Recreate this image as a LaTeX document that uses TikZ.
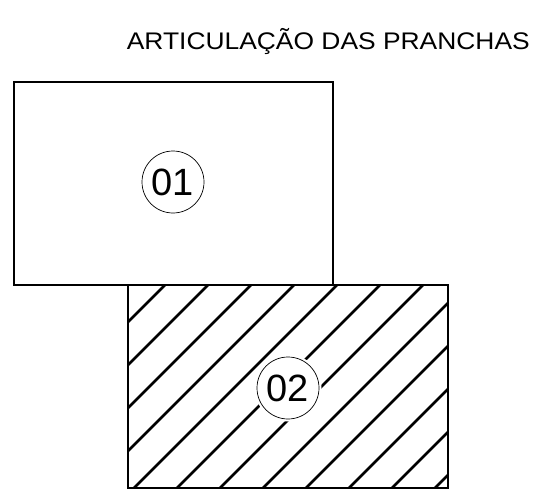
\documentclass[tikz,border=0pt]{standalone}
\usepackage{graphicx}
\usepackage{fontspec}
\setmainfont{Liberation Sans}

\begin{document}
\begin{tikzpicture}[x=1pt,y=-1pt,
    folha/.style={line width=1.1pt},
    hachura/.style={line width=2.7pt},
    numero/.style={circle,draw,line width=0.7pt,fill=white,minimum size=62pt,
      inner sep=0pt,font=\fontsize{38}{38}\selectfont}]
    \useasboundingbox (0,0) rectangle (541,495);
    \node[anchor=base east,inner sep=0pt,font=\fontsize{24}{24}\selectfont] (titulo) at (530,50)
      {\scalebox{1.1}[1]{ARTICULAÇÃO DAS PRANCHAS}};
    % pranchas
    \draw[folha](14,82) rectangle(333,285);
    \draw[folha](128,285) rectangle(448,488);
    \begin{scope}
      \clip(128,285) rectangle(448,488);
      \foreach \k in {0,...,11}
        \draw[hachura](165+43*\k,285)--++(-250,250);
    \end{scope}
    \fill[white](288,388) circle(33.5);
    \node[numero] (n01) at (173,182) {01};
    \node[numero] (n02) at (288,388) {02};
  \end{tikzpicture}
\end{document}
